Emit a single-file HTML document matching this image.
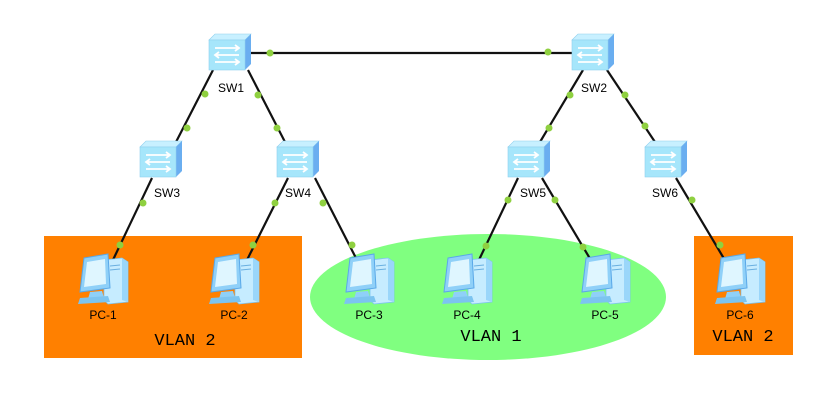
<!DOCTYPE html>
<html><head><meta charset="utf-8"><style>
html,body{margin:0;padding:0;background:#fff;width:839px;height:402px;overflow:hidden}
svg text{font-family:"Liberation Sans",sans-serif;font-size:12px;fill:#000}
.v{font-family:"Liberation Mono",monospace;font-size:17px}
</style></head><body>
<svg width="839" height="402" viewBox="0 0 839 402" xmlns="http://www.w3.org/2000/svg">
<defs>
<g id="sw">
<polygon points="0,6 6,0 42,0 36,6" fill="#c8f0ff" stroke="#8fd0ee" stroke-width="0.6"/>
<polygon points="36,6 42,0 42,30 36,36" fill="#6aaef0"/>
<rect x="0" y="6" width="36" height="30" fill="#a6e6fb" stroke="#8fd0ee" stroke-width="0.6"/>
<g stroke="#fff" stroke-width="1.8" fill="none">
<path d="M6,14 H30 M26,11 L30,14 L26,17"/>
<path d="M30,21 H6 M10,18 L6,21 L10,24"/>
<path d="M6,28 H30 M26,25 L30,28 L26,31"/>
</g>
</g>
<g id="pc">
<polygon points="26,6 44,4 50,8 50,48 30,50 26,46" fill="#c6ecff" stroke="#7cc4f0" stroke-width="0.8"/>
<polygon points="44,4 50,8 50,48 44,46" fill="#9ad6fa"/>
<line x1="32" y1="12" x2="42" y2="11" stroke="#6ab0e0"/>
<line x1="32" y1="16" x2="42" y2="15" stroke="#6ab0e0"/>
<polygon points="6,4 30,0 32,34 2,38" fill="#8fd0f8" stroke="#5aa8e8" stroke-width="1"/>
<polygon points="9,8 27,5 28,30 6,33" fill="#dff6ff"/>
<polygon points="12,38 24,37 26,44 10,45" fill="#8fd0f8"/>
<polygon points="2,44 30,42 32,48 0,50" fill="#7cc4f0"/>
</g>
</defs>
<rect x="44" y="236" width="258" height="122" fill="#ff8000"/>
<rect x="694" y="236" width="99" height="119" fill="#ff8000"/>
<ellipse cx="488" cy="297" rx="178" ry="63" fill="#80ff80"/>
<g stroke="#111" stroke-width="2.2">
<line x1="248" y1="53" x2="575" y2="53"/>
<line x1="213" y1="70" x2="176" y2="142"/>
<line x1="248" y1="70" x2="285" y2="142"/>
<line x1="152" y1="178" x2="112" y2="262"/>
<line x1="288" y1="178" x2="246" y2="262"/>
<line x1="315" y1="178" x2="358" y2="262"/>
<line x1="583" y1="70" x2="540" y2="142"/>
<line x1="607" y1="70" x2="655" y2="142"/>
<line x1="518" y1="178" x2="478" y2="262"/>
<line x1="542" y1="178" x2="592" y2="262"/>
<line x1="676" y1="178" x2="726" y2="262"/>
</g>
<g fill="#8fd040">
<circle cx="270" cy="53" r="3.5"/><circle cx="548" cy="52" r="3.5"/>
<circle cx="205" cy="94" r="3.5"/><circle cx="187" cy="128" r="3.5"/>
<circle cx="258" cy="95" r="3.5"/><circle cx="277" cy="128" r="3.5"/>
<circle cx="143" cy="203" r="3.5"/><circle cx="120" cy="245" r="3.5"/>
<circle cx="275" cy="203" r="3.5"/><circle cx="253" cy="245" r="3.5"/>
<circle cx="323" cy="203" r="3.5"/><circle cx="352" cy="245" r="3.5"/>
<circle cx="570" cy="95" r="3.5"/><circle cx="549" cy="128" r="3.5"/>
<circle cx="625" cy="95" r="3.5"/><circle cx="645" cy="126" r="3.5"/>
<circle cx="508" cy="200" r="3.5"/><circle cx="486" cy="246" r="3.5"/>
<circle cx="555" cy="200" r="3.5"/><circle cx="583" cy="247" r="3.5"/>
<circle cx="692" cy="200" r="3.5"/><circle cx="720" cy="245" r="3.5"/>
</g>
<use href="#sw" x="209" y="34"/>
<use href="#sw" x="572" y="34"/>
<use href="#sw" x="140" y="141"/>
<use href="#sw" x="277" y="141"/>
<use href="#sw" x="508" y="141"/>
<use href="#sw" x="645" y="141"/>
<text x="231" y="92" text-anchor="middle">SW1</text>
<text x="594" y="92" text-anchor="middle">SW2</text>
<text x="167" y="197" text-anchor="middle">SW3</text>
<text x="298" y="197" text-anchor="middle">SW4</text>
<text x="533" y="197" text-anchor="middle">SW5</text>
<text x="665" y="197" text-anchor="middle">SW6</text>
<use href="#pc" x="78" y="254"/>
<use href="#pc" x="209" y="254"/>
<use href="#pc" x="344" y="254"/>
<use href="#pc" x="442" y="254"/>
<use href="#pc" x="580" y="254"/>
<use href="#pc" x="715" y="254"/>
<text x="103" y="319" text-anchor="middle">PC-1</text>
<text x="234" y="319" text-anchor="middle">PC-2</text>
<text x="369" y="319" text-anchor="middle">PC-3</text>
<text x="467" y="319" text-anchor="middle">PC-4</text>
<text x="605" y="319" text-anchor="middle">PC-5</text>
<text x="740" y="319" text-anchor="middle">PC-6</text>
<text class="v" x="185" y="345" text-anchor="middle">VLAN 2</text>
<text class="v" x="491" y="341" text-anchor="middle">VLAN 1</text>
<text class="v" x="743" y="341" text-anchor="middle">VLAN 2</text>
</svg>
</body></html>
